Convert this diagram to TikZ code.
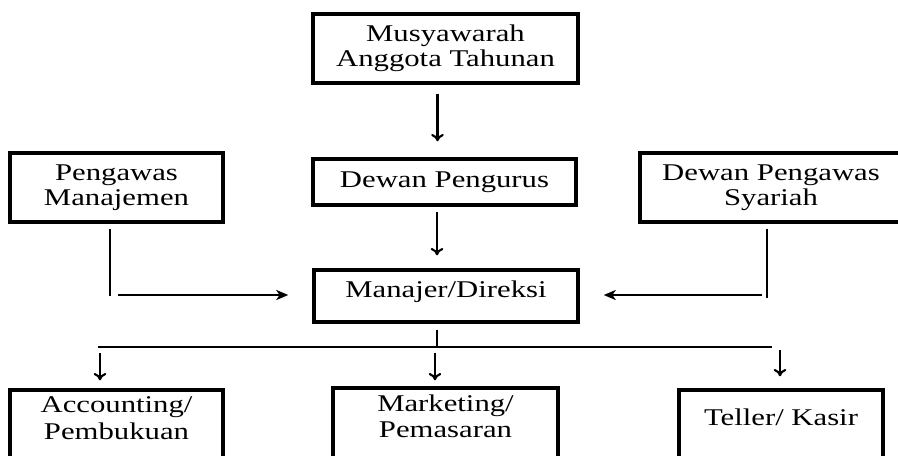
\documentclass[tikz,border=0pt]{standalone}
\usepackage{fontspec}
\setmainfont[FakeStretch=1.28]{Liberation Serif}
\usetikzlibrary{arrows.meta, positioning}

\begin{document}
\begin{tikzpicture}[x = 0.75pt, y = -0.75pt, % pixel-like grid, y downwards
                > = {Stealth[length=9pt, width=7.5pt, inset=2.5pt]}, % side arrows
                down/.style = {-{To[length=5.5pt, width=9.5pt]}, line width = 1.6pt},
                link/.style = {line width = 1.7pt},
                side/.style = {->, line width = 1.6pt},
                box/.style = {draw = black, line width = 2.6pt, rectangle,
                    align = center, inner sep = 0pt},
                txt/.style = {align = center, inner sep = 0pt},
                font = \fontsize{18}{19}\selectfont
            ]

            \useasboundingbox (0,0) rectangle (898,455);

            % boxes
            \node[box, minimum width = 198.75pt, minimum height = 51.75pt] (mat)
                at (445.5,48.5) {Musyawarah\\Anggota Tahunan};
            \node[box, minimum width = 197.25pt, minimum height = 34.5pt] (dp)
                at (444.5,182) {Dewan Pengurus};
            \node[box, minimum width = 198pt, minimum height = 39pt,
                text depth = 11pt] (mgr) at (446,296) {Manajer/Direksi};
            \node[box, minimum width = 159.75pt, minimum height = 51.75pt] (pm)
                at (116.5,187.5) {Pengawas\\Manajemen};
            \node[box, minimum width = 196.5pt, minimum height = 51.75pt] (dps)
                at (771,187.5) {Dewan Pengawas\\Syariah};

            \node[box, minimum width = 159.75pt, minimum height = 67.5pt] (acc)
                at (116.5,435) {};
            \node[box, minimum width = 168.75pt, minimum height = 67.5pt] (mkt)
                at (445.5,433) {};
            \node[box, minimum width = 153pt, minimum height = 67.5pt] (tel)
                at (781,435) {};
            \node[txt, below = 6pt of acc.north, font = \fontsize{18}{20}\selectfont]
                (acctext) {Accounting/\\Pembukuan};
            \node[txt, below = 6pt of mkt.north, font = \fontsize{18}{20}\selectfont]
                (mkttext) {Marketing/\\Pemasaran};
            \node[txt, below = 15.5pt of tel.north] (teltext) {Teller/ Kasir};

            % helper points
            \coordinate (pmbend) at (110,296);
            \coordinate (dpsbend) at (767,298);
            \coordinate (barL) at (98,347);
            \coordinate (barR) at (772,347);

            % top chain
            \draw[down, shorten < = 6.75pt, shorten > = 12pt]
                ([xshift=-6pt]mat.south) -- ([xshift=-6pt]mat.south |- dp.north);
            \draw[down, shorten < = 3.75pt, shorten > = 9.75pt]
                ([xshift=-5.6pt]dp.south) -- ([xshift=-5.6pt]dp.south |- mgr.north);

            % supervisors
            \draw[link, shorten < = 3.75pt] (pm.south -| pmbend) -- (pmbend);
            \draw[side, shorten < = 6pt, shorten > = 18pt]
                ([yshift=0.75pt]pmbend) -- ([yshift=0.75pt]pmbend -| mgr.west);
            \draw[link, shorten < = 3.75pt] (dps.south -| dpsbend) -- (dpsbend);
            \draw[side, shorten < = 3.75pt, shorten > = 18pt]
                ([yshift=2.25pt]dpsbend) -- ([yshift=2.25pt]dpsbend -| mgr.east);

            % units
            \draw[link, shorten < = 4.5pt]
                ([xshift=-6.75pt]mgr.south) -- ([xshift=-6.75pt]mgr.south |- barL);
            \draw[link] (barL) -- (barR);
            \draw[down, shorten < = 4.5pt, shorten > = 6pt]
                ([xshift=-12.4pt]acc.north |- barL) -- ([xshift=-12.4pt]acc.north);
            \draw[down, shorten < = 4.5pt, shorten > = 4.5pt]
                ([xshift=-7.9pt]mkt.north |- barL) -- ([xshift=-7.9pt]mkt.north);
            \draw[down, shorten < = 2.25pt, shorten > = 9pt]
                ([xshift=-0.75pt]tel.north |- barR) -- ([xshift=-0.75pt]tel.north);
        \end{tikzpicture}
\end{document}
